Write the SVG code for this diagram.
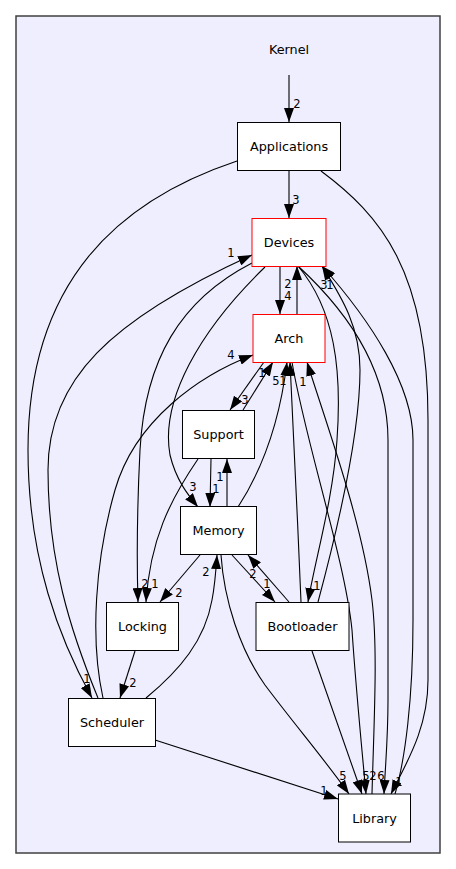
<svg xmlns="http://www.w3.org/2000/svg" width="456" height="869" viewBox="0 0 456 869">
<style>
.node rect{fill:#ffffff;stroke:#000000;stroke-width:1}
.node.red rect{stroke:#ff0000}
.node text,.title{font-family:"DejaVu Sans","Liberation Sans",sans-serif;font-size:12.8px;fill:#000000;text-anchor:middle}
.edges path{fill:none;stroke:#000000;stroke-width:1.1;marker-end:url(#arr)}
.edges text{font-family:"DejaVu Sans","Liberation Sans",sans-serif;font-size:11.5px;fill:#000000;text-anchor:middle}
</style>
<defs>
<marker id="arr" markerUnits="userSpaceOnUse" markerWidth="14" markerHeight="10" viewBox="0 0 14 10" refX="14" refY="5" orient="auto">
<path d="M0,0 L14,5 L0,10 z" fill="#000000"/>
</marker>
</defs>
<rect width="456" height="869" fill="#ffffff"/>
<g id="cluster_Kernel">
<rect x="16" y="16" width="424" height="837" fill="#eeeeff" stroke="#404040" stroke-width="1.5"/>
<text class="title" x="289" y="53.5">Kernel</text>
</g>
<g class="edges" id="edges">
<path d="M289,75 L289,122"/><text x="297" y="107.5">2</text>
<path d="M289,171 L289,218"/><text x="296" y="203.5">3</text>
<path d="M237,161 C120,200 28,280 28,450 C28,560 60,640 92,698"/><text x="87" y="682.5">1</text>
<path d="M321,171 C380,215 428,270 428,420 L428,680 C428,730 405,765 391,794"/><text x="399" y="785.5">1</text>
<path d="M280,266 L280,314"/><text x="288" y="300">4</text>
<path d="M297,314 L297,266"/><text x="288" y="287.5">2</text>
<path d="M98,698 C70,630 48,560 48,470 C48,380 110,320 252,255"/><text x="231" y="256.5">1</text>
<path d="M103,698 C90,640 95,560 115,490 C135,420 200,375 253,355"/><text x="231" y="358.5">4</text>
<path d="M252,263 C180,300 145,360 140,450 C136,530 137,570 138,602"/><text x="145" y="587.5">2</text>
<path d="M198,459 C170,500 150,540 146,602"/><text x="155" y="587.5">1</text>
<path d="M200,555 L160,602"/><text x="179" y="596.5">2</text>
<path d="M265,267 C200,330 160,400 170,455 C176,480 188,495 198,507"/><text x="193" y="490.5">3</text>
<path d="M264,362 L230,410"/><text x="245" y="404">3</text>
<path d="M243,410 L273,362"/><text x="262" y="376.5">1</text>
<path d="M211,459 L210,507"/><text x="216" y="492.5">1</text>
<path d="M227,507 L227,459"/><text x="220" y="480.5">1</text>
<path d="M238,507 C262,470 280,420 287,362"/><text x="276" y="384.5">5</text>
<path d="M301,602 C298,520 292,420 290,362"/><text x="283" y="384.5">1</text>
<path d="M372,794 C374,720 378,650 372,600 C362,520 325,420 307,362"/><text x="303" y="386">1</text>
<path d="M292,362 C305,440 345,560 352,630 C356,690 362,750 366,794"/><text x="373" y="779.5">2</text>
<path d="M298,266 C335,310 342,370 337,440 C333,500 315,560 308,602"/><text x="317" y="589.5">1</text>
<path d="M318,602 C340,520 360,430 360,370 C360,325 340,295 322,266"/><text x="324" y="288.5">3</text>
<path d="M298,266 C335,300 388,360 388,440 L388,700 C388,740 385,770 384,794"/><text x="381" y="779.5">6</text>
<path d="M395,794 C405,760 413,700 413,620 L413,440 C413,385 370,320 322,266"/><text x="330" y="288.5">1</text>
<path d="M312,651 L362,794"/><text x="366" y="779.5">5</text>
<path d="M221,555 C224,600 240,650 265,685 C295,725 325,760 349,794"/><text x="343" y="779.5">5</text>
<path d="M155,740 L338,799"/><text x="324" y="794.5">1</text>
<path d="M146,698 C180,670 205,640 212,600 C215,585 216,570 217,555"/><text x="206" y="575.5">2</text>
<path d="M135,651 L120,698"/><text x="133" y="686.5">2</text>
<path d="M232,555 L275,602"/><text x="267" y="587.5">1</text>
<path d="M289,602 L248,555"/><text x="253" y="577.5">2</text>
</g>
<g class="node" id="node_Applications"><rect x="237.5" y="122.5" width="103" height="48"/><text x="289" y="151">Applications</text></g>
<g class="node red" id="node_Devices"><rect x="252" y="218.5" width="74" height="48"/><text x="289" y="247">Devices</text></g>
<g class="node red" id="node_Arch"><rect x="253" y="314.5" width="72" height="48"/><text x="289" y="343">Arch</text></g>
<g class="node" id="node_Support"><rect x="182.5" y="410.5" width="72" height="48"/><text x="218.5" y="439">Support</text></g>
<g class="node" id="node_Memory"><rect x="180.5" y="506.5" width="76" height="48"/><text x="218.5" y="535">Memory</text></g>
<g class="node" id="node_Locking"><rect x="106.5" y="602.5" width="72" height="48"/><text x="142.5" y="631">Locking</text></g>
<g class="node" id="node_Bootloader"><rect x="256" y="602.5" width="93" height="48"/><text x="302.5" y="631">Bootloader</text></g>
<g class="node" id="node_Scheduler"><rect x="68.5" y="698.5" width="87" height="48"/><text x="112" y="727">Scheduler</text></g>
<g class="node" id="node_Library"><rect x="338.5" y="794" width="72" height="48"/><text x="374.5" y="822.5">Library</text></g>
</svg>
